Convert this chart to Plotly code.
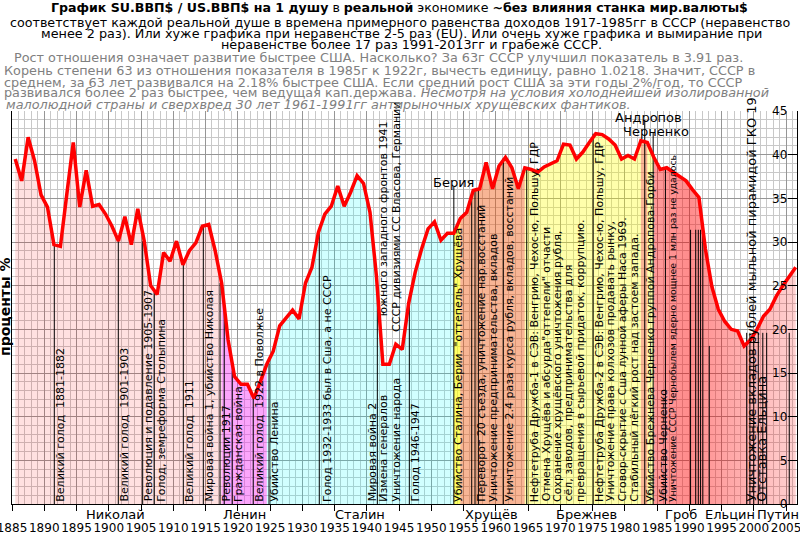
import plotly.graph_objects as go

# ratio SU/US GDP per capita, %, one value per year (drawn at mid-year)
years = list(range(1885, 2007))
ratio = [
    39.5, 37.0, 42.0, 39.3, 35.4, 34.0, 29.7, 29.5, 35.5, 41.4,   # 1885-1894
    34.0, 38.2, 34.1, 34.3, 33.2, 31.8, 30.1, 32.9, 29.7, 33.8,   # 1895-1904
    30.1, 25.0, 24.0, 28.8, 27.8, 30.1, 27.4, 29.0, 29.9, 31.8,   # 1905-1914
    32.0, 29.0, 25.3, 18.8, 14.6, 13.7, 13.7, 12.1, 14.0, 16.0,   # 1915-1924
    17.5, 20.4, 21.3, 22.2, 21.2, 25.3, 27.1, 31.1, 33.2, 34.1,   # 1925-1934
    36.4, 34.1, 35.7, 37.6, 36.7, 33.4, 26.1, 16.0, 16.0, 18.3,   # 1935-1944
    17.7, 23.0, 26.5, 29.2, 31.5, 32.3, 30.2, 31.0, 31.0, 32.7,   # 1945-1954
    33.4, 35.9, 36.1, 39.1, 36.1, 38.7, 39.7, 38.5, 36.1, 38.5,   # 1955-1964
    38.3, 38.0, 38.6, 39.0, 39.3, 41.2, 41.1, 39.5, 40.3, 41.4,   # 1965-1974
    42.4, 42.3, 41.8, 41.1, 39.5, 39.9, 39.5, 41.6, 41.4, 39.7,   # 1975-1984
    38.3, 38.5, 38.0, 37.4, 37.0, 36.0, 35.1, 29.2, 24.9, 22.3,   # 1985-1994
    20.9, 20.0, 19.8, 18.1, 18.8, 20.0, 21.5, 22.3, 23.8, 25.0,   # 1995-2004
    26.1, 27.1,                                                   # 2005-2006
]

# colour of the area under the curve by epoch (first year, last year, fill)
eras = [
    (1885, 1917, "rgba(255,0,0,0.12)"),
    (1917, 1924, "rgba(245,30,245,0.40)"),
    (1924, 1953, "rgba(0,255,255,0.18)"),
    (1953, 1954, "rgba(255,255,0,0.60)"),
    (1954, 1964, "rgba(240,90,20,0.45)"),
    (1964, 1982, "rgba(255,255,0,0.33)"),
    (1982, 1983, "rgba(240,90,20,0.45)"),
    (1983, 1984, "rgba(255,255,0,0.33)"),
]
gradient_from = 1984

# black event markers: position and height
event_years = [1891.56, 1901.48, 1905.26, 1907.06, 1911.56, 1914.66, 1917.25, 1917.9,
               1919.15, 1922.4, 1924.85, 1932.64, 1941.64, 1946.6, 1953.5, 1956.27,
               1956.78, 1957.3, 1961.17, 1964.8, 1975.1, 1983.1, 1984.4, 1986.3,
               1990.2, 1991.0, 1991.4, 1991.75, 1992.1, 1993.1, 1998.9, 1999.4,
               2000.0, 2000.7, 2001.4, 2002.0, 2005.5]
event_tops = [29.6, 30.1, 30.1, 24.2, 27.4, 31.8, 25.3, 22.0,
              15.2, 12.1, 16.1, 31.0, 26.0, 22.9, 36.3, 35.6,
              35.8, 36.0, 39.6, 38.5, 42.4, 44.0, 42.6, 38.5,
              31.4, 31.4, 31.4, 31.4, 31.4, 18.1, 19.6, 19.6,
              19.6, 19.6, 19.6, 19.6, 19.6]

# vertical captions: text, year, base value, font size
captions = [
    ("Великий голод  1881-1882", 1892.6, 0.15, 11),
    ("Великий голод  1901-1903", 1902.5, 0.15, 11),
    ("Революция и подавление 1905-1907", 1906.1, 0.15, 11),
    ("Голод, земреформа Столыпина", 1908.2, 0.15, 11),
    ("Великий голод  1911", 1912.5, 0.15, 11),
    ("Мировая война 1, убийство Николая", 1915.6, 0.15, 11),
    ("Революции 1917", 1918.3, 0.15, 11),
    ("Гражданская война", 1920.1, 0.15, 11),
    ("Великий голод  1922 в Поволжье", 1923.45, 0.15, 11),
    ("Убийство Ленина", 1925.8, 0.15, 11),
    ("Голод 1932-1933 был в Сша, а не СССР", 1933.8, 0.15, 11),
    ("Мировая война 2", 1940.9, 0.15, 11),
    ("Измена генералов", 1942.6, 0.15, 11),
    ("южного западного фронтов 1941", 1942.6, 21.4, 11),
    ("Уничтожение народа", 1944.7, 0.15, 11),
    ("СССР дивизиями СС Власова, Германии", 1944.7, 19.6, 11),
    ("Голод 1946-1947", 1947.6, 0.15, 11),
    ("Убийство Сталина, Берии. \"оттепель\" Хрущёва", 1954.2, 0.15, 11),
    ("Переворот 20 съезда, уничтожение нар.восстаний", 1957.8, 0.15, 11),
    ("Уничтожение предпринимательства, вкладов", 1959.6, 0.15, 11),
    ("Уничтожение 2.4 раза курса рубля, вкладов, восстаний", 1962.1, 0.15, 11),
    ("Нефтетруба Дружба-1 в СЭВ: Венгрию, Чехос-ю, Польшу, ГДР", 1966.0, 0.15, 11),
    ("Отмена Хрущёва и абсурда\"оттепели\" отчасти", 1967.8, 0.15, 11),
    ("Сохранение хрущёвского уничтожения рубля,", 1969.45, 0.15, 11),
    ("сёл, заводов, предпринимательства для", 1971.25, 0.15, 11),
    ("превращения в сырьевой придаток, коррупцию.", 1973.1, 0.15, 11),
    ("Нефтетруба Дружба-2 в СЭВ: Венгрию, Чехос-ю, Польшу, ГДР", 1976.05, 0.15, 11),
    ("Уничтожение права колхозов продавать рынку,", 1977.8, 0.15, 11),
    ("Сговор-скрытие с Сша лунной аферы Наса 1969.", 1979.7, 0.15, 11),
    ("Стабильный лёгкий рост над застоем запада.", 1981.6, 0.15, 11),
    ("Убийство Брежнева Черненко группой Андропова-Горби", 1983.9, 0.15, 11),
    ("Убийство Черненко", 1986.0, 0.15, 11),
    ("Уничтожение СССР Чернобылем ядерно мощнее 1 млн раз не удалось", 1987.3, 0.15, 9.3),
    ("Уничтожение вкладов рублей мыльной пирамидой ГКО 19", 1999.7, 0.15, 13),
    ("Отставка Ельцина", 2001.3, 0.15, 13),
]

# horizontal names over the markers: text, year, value
tags = [("Берия", 1953.4, 36.8), ("Андропов", 1983.7, 44.2), ("Черненко", 1984.9, 42.7)]

# rulers under the time axis: name, year
rulers = [("Николай", 1901.1), ("Ленин", 1921.0), ("Сталин", 1939.0), ("Хрущёв", 1959.4),
          ("Брежнев", 1974.0), ("Гроб", 1988.7), ("Ельцин", 1996.3), ("Путин", 2003.7)]

# header lines: text, x px, y px, anchor, colour, size
header = [
    ("<b>График SU.ВВП$ / US.ВВП$ на 1 душу</b> в <b>реальной</b> экономике "
     "<b>~без влияния станка мир.валюты$</b>", 399, 7.5, "center", "black", 12.6),
    ("соответствует каждой реальной душе в времена примерного равенства доходов "
     "1917-1985гг в СССР (неравенство", 400, 22, "center", "black", 12.7),
    ("менее 2 раз). Или хуже графика при неравенстве 2-5 раз (EU). Или очень хуже "
     "графика и вымирание при", 401, 33.5, "center", "black", 12.8),
    ("неравенстве более 17 раз 1991-2013гг и грабеже СССР.", 411, 45, "center", "black", 12.8),
    ("Рост отношения означает развитие быстрее США. Насколько? За 63г СССР улучшил "
     "показатель в 3.91 раз.", 12, 58, "left", "#808080", 12.8),
    ("Корень степени 63 из отношения показателя в 1985г к 1922г, вычесть единицу, "
     "равно 1.0218. Значит, СССР в", 2, 70, "left", "#808080", 12.8),
    ("среднем, за 63 лет развивался на 2.18% быстрее США. Если средний рост США за "
     "эти годы 2%/год, то СССР", 2, 82, "left", "#808080", 12.8),
    ("развивался более 2 раз быстрее, чем ведущая кап.держава. <i>Несмотря на условия "
     "холоднейшей изолированной</i>", 2, 93, "left", "#808080", 12.8),
    ("<i>малолюдной страны и сверхвред 30 лет 1961-1991гг антирыночных хрущёвских "
     "фантиков.</i>", 4, 105, "left", "#808080", 12.8),
]

FONT = "DejaVu Sans"
W, H = 800, 533
L, R, T, B = 12, 797, 111, 504


def px_x(px):
    return (px - L) / (R - L)


def px_y(py):
    return (B - py) / (B - T)


xs = [y + 0.5 for y in years]

fig = go.Figure()

for a, b, colour in eras:
    i0, i1 = years.index(a), years.index(b)
    fig.add_trace(go.Scatter(x=xs[i0:i1 + 1], y=ratio[i0:i1 + 1], mode="lines",
                             line=dict(width=0), fill="tozeroy", fillcolor=colour,
                             hoverinfo="skip"))

i0 = years.index(gradient_from)
fig.add_trace(go.Scatter(
    x=xs[i0:], y=ratio[i0:], mode="lines", line=dict(width=0), fill="tozeroy",
    fillgradient=dict(type="horizontal", colorscale=[
        [0, "rgba(255,0,0,0.40)"], [0.25, "rgba(255,0,0,0.45)"], [1, "rgba(255,0,0,0.18)"]]),
    hoverinfo="skip"))

ev_x, ev_y = [], []
for x, top in zip(event_years, event_tops):
    ev_x += [x, x, None]
    ev_y += [0, top, None]
fig.add_trace(go.Scatter(x=ev_x, y=ev_y, mode="lines",
                         line=dict(color="black", width=1), hoverinfo="skip"))

fig.add_trace(go.Scatter(x=xs, y=ratio, mode="lines",
                         line=dict(color="#ff0000", width=3.5)))

for text, x, base, size in captions:
    fig.add_annotation(x=x, y=base, text=text, textangle=-90, showarrow=False,
                       xanchor="center", yanchor="bottom", borderpad=0,
                       font=dict(family=FONT, size=size, color="black"))

for text, x, y in tags:
    fig.add_annotation(x=x, y=y, text=text, showarrow=False, xanchor="center",
                       yanchor="middle", font=dict(family=FONT, size=13, color="black"))

for name, x in rulers:
    fig.add_annotation(x=x, y=px_y(514), yref="paper", text=name, showarrow=False,
                       xanchor="center", yanchor="middle",
                       font=dict(family=FONT, size=13, color="black"))

for text, x, y, anchor, colour, size in header:
    fig.add_annotation(x=px_x(x), y=px_y(y), xref="paper", yref="paper", text=text,
                       showarrow=False, xanchor=anchor, yanchor="middle",
                       font=dict(family=FONT, size=size, color=colour))

fig.add_annotation(x=px_x(5), y=px_y(307), xref="paper", yref="paper",
                   text="<b>проценты %</b>", textangle=-90, showarrow=False,
                   xanchor="center", yanchor="middle",
                   font=dict(family=FONT, size=14, color="black"))

fig.update_layout(
    width=W, height=H, showlegend=False,
    margin=dict(l=L, r=W - R, t=T, b=H - B, pad=0, autoexpand=False),
    paper_bgcolor="white", plot_bgcolor="white",
    xaxis=dict(range=[1885, 2006.7], tick0=1885, dtick=5, ticks="outside", ticklen=6,
               tickangle=0, automargin=False,
               tickcolor="black", showline=True, linecolor="black", linewidth=1,
               showgrid=True, gridcolor="#969696", zeroline=False,
               minor=dict(dtick=1, tick0=1885, showgrid=True, gridcolor="#c8c8c8"),
               tickfont=dict(family=FONT, size=12, color="black"),
               ticklabelstandoff=7, ticklabeloverflow="allow", layer="above traces"),
    yaxis=dict(range=[0, 45], dtick=5, side="right", ticks="inside", ticklen=9,
               tickcolor="black", ticklabelposition="inside", ticklabeloverflow="allow",
               automargin=False,
               showline=True, mirror=True, linecolor="black", linewidth=1,
               showgrid=True, gridcolor="#969696", zeroline=False,
               minor=dict(dtick=1, showgrid=True, gridcolor="#c8c8c8"),
               tickfont=dict(family=FONT, size=12, color="black"), layer="above traces"),
)

# the page's default 8px body margin would shift the whole figure
fig.write_html("out.html", config={"displayModeBar": False},
               post_script="document.body.style.margin='0';")
